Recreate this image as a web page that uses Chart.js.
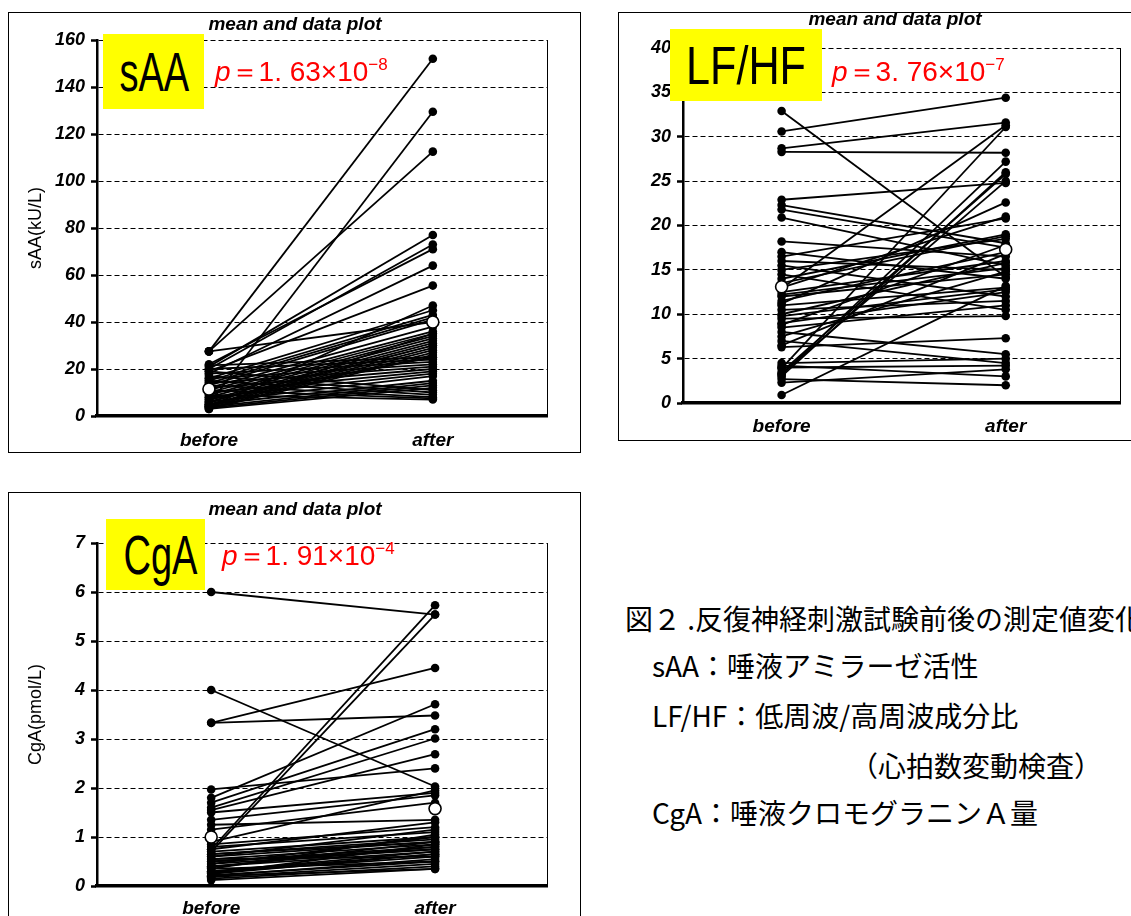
<!DOCTYPE html>
<html>
<head>
<meta charset="utf-8">
<script src="https://cdn.jsdelivr.net/npm/chart.js@4"></script>
<style>
  body { margin: 0; background: #fff; width: 1131px; height: 916px; overflow: hidden; position: relative; }
  .moldura { position: absolute; border: 1px solid #000; box-sizing: border-box; }
  canvas { position: absolute; }
  .rotulo { position: absolute; background: #ff0; color: #000; text-align: center; font-family: "Liberation Sans", Arial, sans-serif; overflow: hidden; }
  .rotulo span { display: inline-block; transform: scaleX(0.68); }
  .valorp { position: absolute; color: #f00; font-family: "Liberation Sans", Arial, sans-serif; font-size: 28px; white-space: nowrap; line-height: 30px; }
  .valorp sup { font-size: 17px; vertical-align: 11px; line-height: 0; }
  .legenda { position: absolute; font-family: "Noto Sans CJK JP", sans-serif; font-size: 28px; line-height: 40px; white-space: nowrap; color: #000; }
</style>
</head>
<body>
<div class="moldura" style="left:8px;top:12px;width:573px;height:441px"></div>
<div class="moldura" style="left:618px;top:12px;width:600px;height:429px"></div>
<div class="moldura" style="left:8px;top:492px;width:573px;height:460px"></div>

<canvas id="graficoSaa" width="572" height="440" style="left:8px;top:12px"></canvas>
<canvas id="graficoLfhf" width="572" height="428" style="left:618px;top:12px"></canvas>
<canvas id="graficoCga" width="572" height="440" style="left:8px;top:492px"></canvas>

<div class="rotulo" style="left:103px;top:34px;width:101px;height:75px;line-height:75px;font-size:56px"><span>sAA</span></div>
<div class="rotulo" style="left:670px;top:29px;width:152px;height:72px;line-height:72px;font-size:54px"><span style="transform:scaleX(0.8)">LF/HF</span></div>
<div class="rotulo" style="left:106px;top:519px;width:99px;height:71px;line-height:71px;font-size:56px"><span>CgA</span></div>

<div class="valorp" style="left:215px;top:57px"><i>p</i>＝1. 63×10<sup>−8</sup></div>
<div class="valorp" style="left:832px;top:57px"><i>p</i>＝3. 76×10<sup>−7</sup></div>
<div class="valorp" style="left:222px;top:541px"><i>p</i>＝1. 91×10<sup>−4</sup></div>

<div class="legenda" style="left:625px;top:598px">図２ .反復神経刺激試験前後の測定値変化</div>
<div class="legenda" style="left:652px;top:645px">sAA：唾液アミラーゼ活性</div>
<div class="legenda" style="left:652px;top:695px">LF/HF：低周波/高周波成分比</div>
<div class="legenda" style="left:850px;top:745px">（心拍数変動検査）</div>
<div class="legenda" style="left:652px;top:792px">CgA：唾液クロモグラニンＡ量</div>

<script>
// Categorias do eixo x
const categorias = ['before', 'after'];

// sAA (kU/L) - valores antes / depois de cada sujeito
const saaAntes = [27.5, 27.5, 27.5, 5, 21, 20, 22, 18, 19, 4, 16, 15, 14, 13, 12, 11, 10, 9, 8, 7, 6, 5, 4.5, 4, 3.5, 3,
    21.5, 20, 18, 16, 14, 12, 10, 8, 6, 5, 4, 3.5, 3, 19, 17, 15, 13, 11, 9, 7, 6, 4];
const saaDepois = [152, 112.5, 40, 129.5, 77, 73, 71, 64, 55.5, 47, 45, 43, 42, 41, 38, 36, 35, 34, 33, 32, 31, 30, 29, 28, 27, 26,
    25, 24, 23, 22, 21, 20, 19, 18, 17, 15, 14, 13, 12, 11, 10, 9, 8, 7.5, 7, 25, 30, 35];
const saaMedia = [11.5, 40];

// LF/HF
const lfhfAntes = [32.9, 30.6, 28.7, 28.3, 22.9, 22.3, 21.8, 20.9, 18.2, 17, 16.5, 16, 15.5, 15, 14.5, 13, 12.9, 12.5, 12, 11.5,
    11, 10.5, 10, 9.5, 9, 8.5, 8, 7.5, 7, 6.5, 6.3, 4.5, 4.2, 3.9, 3.5, 3.2, 3, 2.7, 2.3, 0.9, 13.5, 12.2, 11.2, 9.8, 8.8, 14, 4, 3.3];
const lfhfDepois = [14.2, 34.4, 31.6, 28.2, 24.8, 18, 17.5, 15.5, 16.5, 14, 20.8, 15, 12, 18.5, 10.5, 21, 31.3, 16, 14.5, 17,
    13, 11.5, 15.8, 9.8, 12.5, 11, 5.5, 14.8, 4.5, 16.8, 7.3, 5, 3, 31.1, 25.8, 27.2, 26, 2, 3.8, 13.2, 18.8, 15.2, 22.6, 12.8, 17.8, 19, 4.2, 25];
const lfhfMedia = [13.1, 17.3];

// CgA (pmol/L)
const cgaAntes = [6.0, 4.0, 3.33, 3.33, 0.75, 0.7, 1.97, 1.8, 1.7, 1.6, 1.55, 1.5, 1.35, 1.25, 1.15, 0.9, 0.85, 0.8, 0.75, 0.7,
    0.65, 0.6, 0.55, 0.5, 0.45, 0.4, 0.38, 0.35, 0.3, 0.28, 0.25, 0.22, 0.2, 0.18, 0.15, 0.12, 0.6, 0.5, 0.4, 0.3, 0.45, 0.55, 0.35, 0.25, 0.65, 0.2];
const cgaDepois = [5.54, 2.03, 4.45, 3.48, 5.73, 5.54, 2.4, 3.71, 3.2, 3.01, 2.69, 1.9, 1.85, 1.35, 1.7, 1.95, 1.2, 1.1, 1.3, 1.0,
    0.95, 0.9, 0.85, 0.8, 0.75, 0.7, 0.9, 1.05, 0.65, 0.6, 0.85, 0.5, 0.55, 0.45, 0.4, 0.35, 1.15, 0.75, 0.8, 0.7, 1.0, 0.6, 0.5, 0.65, 0.9, 0.35];
const cgaMedia = [1.0, 1.58];

const fonteArial = 'Arial, "Liberation Sans", sans-serif';

// Titulo "mean and data plot" e borda direita da area do grafico
const pluginMoldura = {
    id: 'moldura',
    afterDraw(chart, args, opts) {
        const { ctx, chartArea } = chart;
        ctx.save();
        ctx.strokeStyle = '#000';
        ctx.lineWidth = 1;
        ctx.beginPath();
        ctx.moveTo(Math.round(chartArea.right) + 0.5, chartArea.top);
        ctx.lineTo(Math.round(chartArea.right) + 0.5, chartArea.bottom);
        ctx.stroke();
        ctx.fillStyle = '#000';
        ctx.font = 'italic bold 19px ' + fonteArial;
        ctx.textAlign = 'center';
        ctx.textBaseline = 'middle';
        ctx.fillText(opts.texto, opts.x, opts.y);
        ctx.restore();
    }
};

function criarGrafico(id, antes, depois, media, cfg) {
    const datasets = antes.map((v, i) => ({
        data: [{ x: 1, y: v }, { x: 3, y: depois[i] }],
        showLine: true,
        borderColor: '#000',
        borderWidth: 1.8,
        pointRadius: 4.3,
        pointBackgroundColor: '#000',
        pointBorderWidth: 0,
        order: 1
    }));
    // media (ponto branco)
    datasets.push({
        data: [{ x: 1, y: media[0] }, { x: 3, y: media[1] }],
        showLine: false,
        pointRadius: 6,
        pointBackgroundColor: '#fff',
        pointBorderColor: '#000',
        pointBorderWidth: 1.6,
        order: 0
    });

    const ctx = document.getElementById(id).getContext('2d');
    return new Chart(ctx, {
        type: 'scatter',
        data: { datasets: datasets },
        plugins: [pluginMoldura],
        options: {
            responsive: false,
            animation: false,
            layout: { padding: { left: 0, top: cfg.topo, right: cfg.direita, bottom: 0 } },
            plugins: {
                legend: { display: false },
                tooltip: { enabled: false },
                moldura: { texto: 'mean and data plot', x: cfg.tituloX, y: cfg.tituloY }
            },
            scales: {
                x: {
                    type: 'linear',
                    min: cfg.xMin,
                    max: cfg.xMax,
                    afterBuildTicks: eixo => { eixo.ticks = [{ value: 1 }, { value: 3 }]; },
                    afterFit: eixo => { eixo.height = cfg.alturaX; },
                    ticks: {
                        callback: v => v === 1 ? categorias[0] : categorias[1],
                        font: { family: fonteArial, size: 19, style: 'italic', weight: 'bold' },
                        color: '#000',
                        padding: cfg.padX,
                        maxRotation: 0,
                        autoSkip: false
                    },
                    grid: { display: false, drawTicks: false },
                    border: { color: '#000', width: 3.5 }
                },
                y: {
                    min: 0,
                    max: cfg.yMax,
                    afterFit: eixo => { eixo.width = cfg.larguraY; },
                    ticks: {
                        stepSize: cfg.passo,
                        font: { family: fonteArial, size: 18, style: 'italic', weight: 'bold' },
                        color: '#000',
                        padding: 6
                    },
                    grid: { color: '#000', lineWidth: 1, tickLength: 6, tickColor: '#000', tickWidth: 2.5, tickBorderDash: [] },
                    border: { color: '#000', width: 2.5, dash: [5, 3] },
                    title: {
                        display: !!cfg.tituloEixo,
                        text: cfg.tituloEixo,
                        font: { family: fonteArial, size: 18 },
                        color: '#000',
                        padding: { top: 17 }
                    }
                }
            }
        }
    });
}

document.addEventListener('DOMContentLoaded', () => {
    criarGrafico('graficoSaa', saaAntes, saaDepois, saaMedia, {
        yMax: 160, passo: 20, xMin: 0, xMax: 4.02, larguraY: 89, alturaX: 36, topo: 28, direita: 33,
        padX: 13, tituloX: 287, tituloY: 13, tituloEixo: 'sAA(kU/L)'
    });
    criarGrafico('graficoLfhf', lfhfAntes, lfhfDepois, lfhfMedia, {
        yMax: 40, passo: 5, xMin: 0.12, xMax: 4.02, larguraY: 65, alturaX: 37, topo: 36, direita: 70,
        padX: 12, tituloX: 277, tituloY: 8, tituloEixo: ''
    });
    criarGrafico('graficoCga', cgaAntes, cgaDepois, cgaMedia, {
        yMax: 7, passo: 1, xMin: -0.02, xMax: 4.0, larguraY: 89, alturaX: 46, topo: 51, direita: 33,
        padX: 11, tituloX: 287, tituloY: 18, tituloEixo: 'CgA(pmol/L)'
    });
});
</script>
</body>
</html>
